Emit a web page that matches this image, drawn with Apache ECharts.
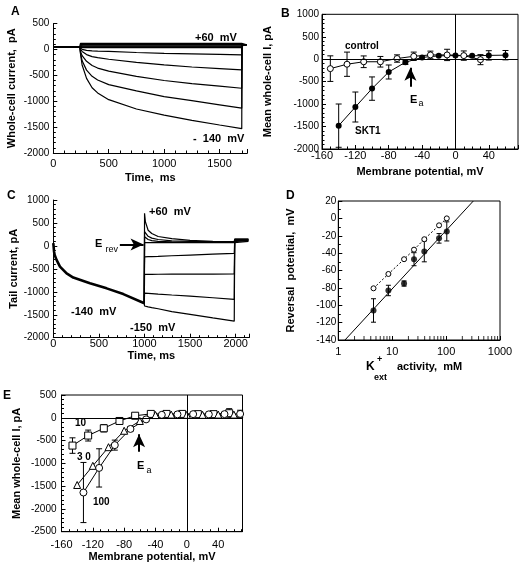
<!DOCTYPE html>
<html><head><meta charset="utf-8">
<script src="https://cdn.jsdelivr.net/npm/echarts@6/dist/echarts.min.js"></script>
<style>html,body{margin:0;padding:0;background:#fff}#c{width:521px;height:571px}</style>
</head><body><div id="c"></div>
<script>
// ---------- Panel A: whole-cell current traces ----------
const aTime   = [0, 240, 245, 260, 300, 350, 400, 500, 750, 1000, 1250, 1500, 1700, 1702, 1745];
const aI_m140 = [45, 45, -80, -300, -560, -740, -840, -970, -1150, -1270, -1370, -1460, -1530, 90, 90];
const aI_m120 = [45, 45, -60, -220, -400, -520, -590, -680, -800, -910, -990, -1070, -1135, 90, 90];
const aI_m100 = [45, 45, -40, -120, -230, -310, -360, -420, -520, -600, -660, -710, -750, 90, 90];
const aI_m80  = [45, 45, 0, -40, -100, -140, -160, -190, -250, -300, -340, -370, -395, 90, 90];
const aI_m60  = [45, 45, 20, 0, -20, -30, -35, -40, -60, -75, -85, -95, -105, 90, 90];
const aI_m40  = [45, 45, 35, 35, 35, 35, 35, 35, 35, 35, 35, 35, 35, 90, 90];
const aI_m20  = [45, 45, 50, 50, 50, 50, 50, 50, 50, 50, 50, 50, 50, 90, 90];
const aI_0    = [45, 45, 65, 65, 65, 65, 65, 65, 65, 65, 65, 65, 65, 90, 90];
const aI_20   = [45, 45, 80, 80, 80, 80, 80, 80, 80, 80, 80, 80, 80, 90, 90];
const aI_40   = [45, 45, 95, 95, 95, 95, 95, 95, 95, 95, 95, 95, 95, 90, 90];
const aI_60   = [45, 45, 115, 115, 115, 115, 115, 115, 115, 115, 115, 115, 115, 90, 90];
const aTraces = [aI_m140, aI_m120, aI_m100, aI_m80, aI_m60, aI_m40, aI_m20, aI_0, aI_20, aI_40, aI_60];

// ---------- Panel B: mean I-V ----------
const bSktV   = [-140, -120, -100, -80, -60, -40, -20, 0, 20, 40, 60];
const bSktI   = [-1480, -1065, -655, -285, -68, 40, 75, 80, 75, 85, 90];
const bSktErr = [482, 334, 260, 156, 48, 0, 0, 0, 0, 104, 104];
const bCtrlV   = [-150, -130, -110, -90, -70, -50, -30, -10, 10, 30];
const bCtrlI   = [-210, -112, -57, -57, 15, 65, 95, 95, 80, -10];
const bCtrlErr = [285, 270, 130, 118, 82, 93, 85, 126, 104, 112];
const bEa = [-54, -612, -189];   // arrow x, from, to

// ---------- Panel C: tail currents ----------
const cPreTime = [0, 3, 8, 15, 37, 73, 146, 219, 402, 585, 768, 998];
const cPreI    = [60, 0, -120, -200, -310, -450, -600, -690, -815, -925, -1050, -1250];
const cTailTime = [998, 1001, 1010, 1040, 1080, 1150, 1300, 1500, 1750, 1985, 1990, 2140];
const cTail_m150 = [-1250, -1310, -1320, -1330, -1345, -1370, -1430, -1490, -1570, -1640, 130, 130];
const cTail_m120 = [-1250, -1030, -1032, -1035, -1040, -1050, -1070, -1095, -1130, -1165, 120, 120];
const cTail_m90  = [-1250, -620, -620, -620, -620, -618, -617, -615, -613, -612, 110, 110];
const cTail_m60  = [-1250, -240, -238, -235, -232, -228, -215, -200, -180, -165, 140, 140];
const cTail_m30  = [-1250, 70, 70, 70, 70, 70, 70, 70, 70, 70, 100, 100];
const cTail_0    = [-1250, 200, 170, 140, 115, 100, 88, 82, 80, 78, 150, 150];
const cTail_30   = [-1250, 310, 270, 210, 170, 140, 110, 98, 92, 90, 125, 125];
const cTail_60   = [-1250, 710, 530, 340, 270, 205, 160, 120, 100, 92, 145, 145];
const cTails = [cTail_m150, cTail_m120, cTail_m90, cTail_m60, cTail_m30, cTail_0, cTail_30, cTail_60];
const cErevArrow = [730, 990, 30];  // from x, to x, y

// ---------- Panel D: reversal potential vs K+ activity ----------
const dK       = [4.5, 8.5, 16.6, 25.4, 39.4, 74, 103];
const dEfilled = [-106, -83, -75, -47, -38, -23, -15];
const dErr     = [13.5, 6, 3, 7.5, 12, 5.5, 11];
const dEopen   = [-80.5, -64, -47, -36, -24, -8, 0];
const dFitK = [1.33, 320];
const dFitE = [-140, 20];
const dMinorTicks = [2, 3, 4, 5, 6, 7, 8, 9, 20, 30, 40, 50, 60, 70, 80, 90, 200, 300, 400, 500, 600, 700, 800, 900];

// ---------- Panel E: I-V at 10, 30, 100 mM ----------
const e10V   = [-146, -126, -106, -86, -66, -46, -26, -6, 14, 34, 54];
const e10I   = [-610, -390, -230, -70, 45, 85, 85, 85, 80, 80, 100];
const e10Err = [170, 120, 80, 40, 30, 0, 0, 0, 0, 30, 100];
const e30V   = [-140, -120, -100, -80, -60, -40, -20, 0, 20, 40, 60];
const e30I   = [-1475, -1055, -645, -285, -70, 60, 70, 65, 65, 70, 70];
const e100V   = [-132, -112, -92, -72, -52, -32, -12, 8, 28, 48, 68];
const e100I   = [-1640, -1100, -600, -245, -35, 65, 75, 80, 75, 80, 85];
const e100Err = [660, 420, 110, 50, 30, 0, 0, 0, 0, 0, 80];
const eEa = [-61, -743, -362];

// ---------- helpers ----------
const FONT = '"Liberation Sans", Arial, Helvetica, sans-serif';
const BLK = '#000';
const pairs = (xs, ys) => xs.map((x, i) => [x, ys[i]]);
const plain = v => String(Math.round(v));

function axisCommon(extra) {
  return Object.assign({
    axisLine: {show: true, onZero: false, lineStyle: {color: BLK, width: 1}},
    axisTick: {show: true, inside: true, length: 4, lineStyle: {color: BLK, width: 1}},
    splitLine: {show: false},
    minorSplitLine: {show: false},
    nameTextStyle: {color: BLK, fontFamily: FONT, fontSize: 11, fontWeight: 'bold'},
    nameLocation: 'middle'
  }, extra);
}
function lab(size, margin, extra) {
  return Object.assign({color: BLK, fontFamily: FONT, fontSize: size, margin: margin, formatter: plain}, extra || {});
}
function minor(n) { return {show: true, splitNumber: n, length: 2.5, lineStyle: {color: BLK, width: 1}}; }

function errSeries(gi, xs, ys, es, cap) {
  return {
    type: 'custom', xAxisIndex: gi, yAxisIndex: gi, z: 1, silent: true, clip: false,
    data: xs.map((x, i) => [x, ys[i], es[i]]).filter(d => d[2] > 0),
    encode: {x: 0, y: 1},
    renderItem: function (params, api) {
      const x = api.value(0), y = api.value(1), e = api.value(2);
      const t = api.coord([x, y + e]), b = api.coord([x, y - e]);
      const st = {stroke: BLK, lineWidth: 1};
      return {type: 'group', children: [
        {type: 'line', shape: {x1: t[0], y1: t[1], x2: b[0], y2: b[1]}, style: st},
        {type: 'line', shape: {x1: t[0] - cap, y1: t[1], x2: t[0] + cap, y2: t[1]}, style: st},
        {type: 'line', shape: {x1: b[0] - cap, y1: b[1], x2: b[0] + cap, y2: b[1]}, style: st}
      ]};
    }
  };
}
function traceSeries(gi, xs, ys, w) {
  return {type: 'line', xAxisIndex: gi, yAxisIndex: gi, data: pairs(xs, ys), showSymbol: false,
    symbol: 'none', lineStyle: {color: BLK, width: w || 1.2}, silent: true, z: 2};
}
function txt(x, y, s, size, weight, align) {
  return {type: 'text', x: x, y: y, silent: true, z: 100,
    style: {text: s, fill: BLK, fontFamily: FONT, fontSize: size, fontWeight: weight || 'bold',
      align: align || 'left', verticalAlign: 'middle', textAlign: align || 'left', textVerticalAlign: 'middle'}};
}
const arrowLine = (p1, p2) => [
  {coord: p1, symbol: 'none'},
  {coord: p2, symbol: 'arrow', symbolSize: [9, 13], lineStyle: {color: BLK, width: 2, type: 'solid'}}
];

// ---------- grids ----------
const grids = [
  {left: 53.3, top: 23.5, width: 194, height: 129.5},
  {left: 322, top: 14.3, width: 196, height: 134.7, show: true, borderColor: BLK, borderWidth: 1},
  {left: 53.3, top: 200, width: 196, height: 137.7},
  {left: 338.3, top: 201, width: 161.7, height: 139, show: true, borderColor: BLK, borderWidth: 1},
  {left: 61.5, top: 395, width: 181, height: 136.7, show: true, borderColor: BLK, borderWidth: 1}
].map(g => Object.assign({containLabel: false, outerBoundsMode: 'none', backgroundColor: 'transparent'}, g));

const xAxes = [
  axisCommon({gridIndex: 0, type: 'value', min: 0, max: 1750, interval: 500, minorTick: minor(5),
    axisLabel: lab(11, 5, {showMaxLabel: false}), name: 'Time,  ms', nameGap: 19}),
  axisCommon({gridIndex: 1, type: 'value', min: -160, max: 75, interval: 40, minorTick: minor(4),
    axisLabel: lab(11, 1, {showMaxLabel: false}), name: 'Membrane potential, mV', nameGap: 17}),
  axisCommon({gridIndex: 2, type: 'value', min: 0, max: 2150, interval: 500, minorTick: minor(5),
    axisLabel: lab(11, 1, {showMaxLabel: false}), name: 'Time, ms', nameGap: 11}),
  axisCommon({gridIndex: 3, type: 'log', logBase: 10, min: 1, max: 1000,
    axisLabel: lab(11, 6)}),
  axisCommon({gridIndex: 4, type: 'value', min: -160, max: 71, interval: 40, minorTick: minor(4),
    axisLabel: lab(11, 8, {showMaxLabel: false}), name: 'Membrane potential, mV', nameGap: 16})
];
const yAxes = [
  axisCommon({gridIndex: 0, type: 'value', min: -2000, max: 500, interval: 500, minorTick: minor(5),
    axisLabel: lab(10, 4), name: 'Whole-cell current,  pA', nameGap: 36}),
  axisCommon({gridIndex: 1, type: 'value', min: -2000, max: 1000, interval: 500, minorTick: minor(5),
    axisLabel: lab(10, 3), name: 'Mean whole-cell I, pA', nameGap: 49}),
  axisCommon({gridIndex: 2, type: 'value', min: -2000, max: 1000, interval: 500, minorTick: minor(5),
    axisLabel: lab(10, 4), name: 'Tail current, pA', nameGap: 33}),
  axisCommon({gridIndex: 3, type: 'value', min: -140, max: 20, interval: 20, minorTick: minor(2),
    axisLabel: lab(10, 2), name: 'Reversal  potential,  mV', nameGap: 42}),
  axisCommon({gridIndex: 4, type: 'value', min: -2500, max: 500, interval: 500, minorTick: minor(5),
    axisLabel: lab(10, 5), name: 'Mean whole-cell I, pA', nameGap: 39})
];

// ---------- series ----------
const series = [];
aTraces.forEach(t => series.push(traceSeries(0, aTime, t, 1.2)));

// B
series.push(errSeries(1, bSktV, bSktI, bSktErr, 3));
series.push(errSeries(1, bCtrlV, bCtrlI, bCtrlErr, 3));
series.push({type: 'line', xAxisIndex: 1, yAxisIndex: 1, data: pairs(bSktV, bSktI), z: 3,
  symbol: 'circle', symbolSize: 6, itemStyle: {color: BLK}, lineStyle: {color: BLK, width: 1},
  markLine: {silent: true, symbol: 'none', animation: false, label: {show: false},
    lineStyle: {color: BLK, width: 1, type: 'solid'},
    data: [{xAxis: 0}, {yAxis: 0}, arrowLine([bEa[0], bEa[1]], [bEa[0], bEa[2]])]}});
series.push({type: 'line', xAxisIndex: 1, yAxisIndex: 1, data: pairs(bCtrlV, bCtrlI), z: 4,
  symbol: 'circle', symbolSize: 6, itemStyle: {color: '#fff', borderColor: BLK, borderWidth: 1},
  lineStyle: {color: BLK, width: 1}});

// C
series.push(Object.assign(traceSeries(2, cPreTime, cPreI, 2.6), {
  markLine: {silent: true, animation: false, label: {show: false}, symbol: 'none',
    lineStyle: {color: BLK, width: 1.5, type: 'solid'},
    data: [arrowLine([cErevArrow[0], cErevArrow[2]], [cErevArrow[1], cErevArrow[2]])]}}));
cTails.forEach(t => series.push(traceSeries(2, cTailTime, t, 1.2)));

// D
series.push(errSeries(3, dK, dEfilled, dErr, 2.5));
series.push({type: 'line', xAxisIndex: 3, yAxisIndex: 3, data: pairs(dFitK, dFitE), symbol: 'none',
  lineStyle: {color: BLK, width: 1}, z: 2});
series.push({type: 'scatter', xAxisIndex: 3, yAxisIndex: 3, data: pairs(dK, dEfilled), symbol: 'circle',
  symbolSize: 6, itemStyle: {color: BLK}, z: 3});
series.push({type: 'line', xAxisIndex: 3, yAxisIndex: 3, data: pairs(dK, dEopen), symbol: 'circle',
  symbolSize: 5, itemStyle: {color: '#fff', borderColor: BLK, borderWidth: 1},
  lineStyle: {color: BLK, width: 1, type: [2, 2]}, z: 3});
series.push({type: 'scatter', xAxisIndex: 3, yAxisIndex: 3, silent: true,
  data: dMinorTicks.map(k => [k, -140]), symbol: 'rect', symbolSize: [1, 4], symbolOffset: [0, -2],
  itemStyle: {color: BLK}, z: 2});

// E
series.push(errSeries(4, e10V, e10I, e10Err, 3));
series.push(errSeries(4, e100V, e100I, e100Err, 3));
series.push({type: 'line', xAxisIndex: 4, yAxisIndex: 4, data: pairs(e10V, e10I), z: 3,
  symbol: 'rect', symbolSize: 7, itemStyle: {color: '#fff', borderColor: BLK, borderWidth: 1},
  lineStyle: {color: BLK, width: 1},
  markLine: {silent: true, symbol: 'none', animation: false, label: {show: false},
    lineStyle: {color: BLK, width: 1, type: 'solid'},
    data: [{xAxis: 0}, {yAxis: 0}, arrowLine([eEa[0], eEa[1]], [eEa[0], eEa[2]])]}});
series.push({type: 'line', xAxisIndex: 4, yAxisIndex: 4, data: pairs(e30V, e30I), z: 3,
  symbol: 'triangle', symbolSize: 7, itemStyle: {color: '#fff', borderColor: BLK, borderWidth: 1},
  lineStyle: {color: BLK, width: 1}});
series.push({type: 'line', xAxisIndex: 4, yAxisIndex: 4, data: pairs(e100V, e100I), z: 3,
  symbol: 'circle', symbolSize: 7, itemStyle: {color: '#fff', borderColor: BLK, borderWidth: 1},
  lineStyle: {color: BLK, width: 1}});

// ---------- text annotations ----------
const graphic = [
  txt(11, 12, 'A', 12), txt(281, 14, 'B', 12), txt(7, 196, 'C', 12), txt(286, 196, 'D', 12), txt(3, 396, 'E', 12),
  txt(195, 38, '+60  mV', 11), txt(193, 139, '-  140  mV', 11),
  txt(345, 46, 'control', 10), txt(355, 131.7, 'SKT1', 10),
  txt(410, 99.5, 'E', 11), txt(418.5, 104, 'a', 9, 'normal'),
  txt(149, 212, '+60  mV', 11), txt(95, 244, 'E', 11), txt(105.5, 250, 'rev', 9, 'normal'),
  txt(71, 312, '-140  mV', 11), txt(130, 327.5, '-150  mV', 11),
  txt(366, 367, 'K', 12), txt(377, 360, '+', 9), txt(374, 378, 'ext', 9), txt(397, 367, 'activity,  mM', 11),
  txt(75, 423, '10', 10), txt(77, 457.5, '3 0', 10), txt(93, 502, '100', 10),
  txt(137, 466, 'E', 11), txt(146.5, 471, 'a', 9, 'normal')
];

const chart = echarts.init(document.getElementById('c'), null, {renderer: 'canvas'});
chart.setOption({
  animation: false,
  backgroundColor: '#fff',
  textStyle: {fontFamily: FONT},
  grid: grids, xAxis: xAxes, yAxis: yAxes, series: series, graphic: graphic
});
</script></body></html>
